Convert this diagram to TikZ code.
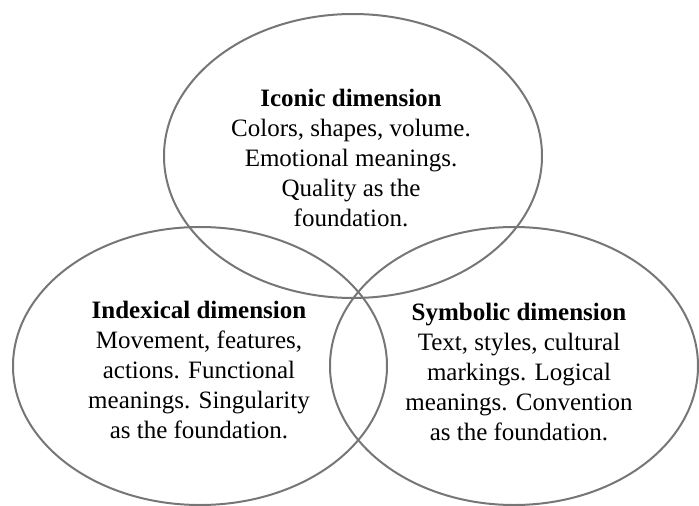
\documentclass[tikz,border=0pt]{standalone}
\usepackage{fontspec}
\setmainfont{Liberation Serif}
\usetikzlibrary{shapes.geometric}
\definecolor{ringgray}{RGB}{118,118,118}
\begin{document}
\begin{tikzpicture}[x=1pt,y=-1pt,
  dim/.style={draw=ringgray,ellipse,line width=2pt,inner sep=0pt},
  dimtext/.style={align=center,inner sep=0pt,font=\fontsize{25}{30}\selectfont}]
\useasboundingbox (0,0) rectangle (699,506);
\node[dim,minimum width=378pt,minimum height=284pt] (W0) at (353,156) {};
\node[dim,minimum width=374pt,minimum height=278pt] (W1) at (200,366) {};
\node[dim,minimum width=368pt,minimum height=278pt] (W2) at (514,366) {};
\node[dimtext] (T0) at ([xshift=-2pt,yshift=-2pt]W0.center) {\textbf{Iconic dimension}\\Colors, shapes, volume.\\Emotional meanings.\\Quality as the\\foundation.};
\node[dimtext] (T1) at ([xshift=-1pt,yshift=-4pt]W1.center) {\textbf{Indexical dimension}\\Movement, features,\\actions. Functional\\meanings. Singularity\\as the foundation.};
\node[dimtext] (T2) at ([xshift=5pt,yshift=-6pt]W2.center) {\textbf{Symbolic dimension}\\Text, styles, cultural\\markings. Logical\\meanings. Convention\\as the foundation.};
\end{tikzpicture}
\end{document}
